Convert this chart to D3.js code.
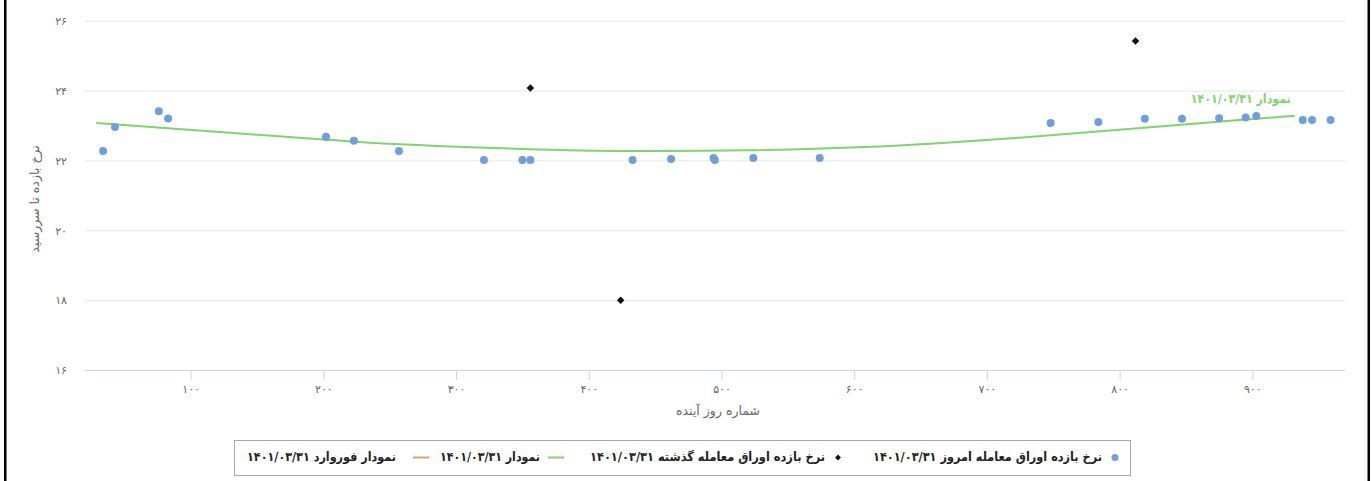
<!DOCTYPE html>
<html><head><meta charset="utf-8">
<script src="https://cdn.jsdelivr.net/npm/d3@7"></script>
<style>
body{margin:0;background:#fff}
svg{display:block}
text{font-family:"DejaVu Sans",sans-serif}
</style>
</head><body>
<svg id="c" width="1371" height="481"></svg>
<script>
// ---- data ----
const todayX=[34,43,76,83,202,223,257,321,350,356,433,462,494,495,524,574,748,784,819,847,875,895,903,938,945,959];
const todayY=[22.27,22.96,23.41,23.20,22.68,22.56,22.27,22.01,22.01,22.01,22.01,22.04,22.07,22.01,22.07,22.07,23.07,23.10,23.19,23.19,23.21,23.23,23.27,23.16,23.16,23.16];
const pastX=[356,424,812];
const pastY=[24.07,18.0,25.42];
const curveX=[29,83,200,258,350,431,520,619,672,748,823,895,932];
const curveY=[23.07,22.92,22.60,22.46,22.33,22.27,22.29,22.40,22.51,22.72,22.95,23.17,23.28];
const forwardX=[];
const forwardY=[];
const xTicks=[100,200,300,400,500,600,700,800,900];
const xTickLabels=["۱۰۰","۲۰۰","۳۰۰","۴۰۰","۵۰۰","۶۰۰","۷۰۰","۸۰۰","۹۰۰"];
const yTicks=[16,18,20,22,24,26];
const yTickLabels=["۱۶","۱۸","۲۰","۲۲","۲۴","۲۶"];
const seriesNames=["نرخ بازده اوراق معامله امروز ۱۴۰۱/۰۳/۳۱","نرخ بازده اوراق معامله گذشته ۱۴۰۱/۰۳/۳۱","نمودار ۱۴۰۱/۰۳/۳۱","نمودار فوروارد ۱۴۰۱/۰۳/۳۱"];
const curveLabel="نمودار ۱۴۰۱/۰۳/۳۱";
const xTitle="شماره روز آینده";
const yTitle="نرخ بازده تا سررسید";

// ---- layout ----
const colors={blue:"#6f9fd8",black:"#111111",green:"#7fd46c",orange:"#e0a060"};
const svg=d3.select("#c");
const L=85,R=1345,T=20.7,B=370;
const x=d3.scaleLinear().domain([20,970]).range([84.5,1345.2]);
const y=d3.scaleLinear().domain([16,26]).range([370,20.7]);

function fit(sel,w){
  const n=sel.node(); const fs=+sel.attr("font-size");
  const len=n.getComputedTextLength();
  if(len>0) sel.attr("font-size",fs*w/len);
  return sel;
}
function squeeze(sel,w){
  const len=sel.node().getComputedTextLength();
  if(len>w) sel.attr("textLength",w).attr("lengthAdjust","spacingAndGlyphs");
  return sel;
}

// frame
svg.append("rect").attr("x",4).attr("y",0).attr("width",2.5).attr("height",481).attr("fill","#000");
svg.append("rect").attr("x",1367.5).attr("y",0).attr("width",2.5).attr("height",481).attr("fill","#000");

// grid
const gy=svg.append("g").attr("transform",`translate(${L},0)`)
  .call(d3.axisLeft(y).tickValues(yTicks).tickSize(-(R-L)).tickFormat((d,i)=>yTickLabels[i]));
gy.select(".domain").remove();
gy.selectAll(".tick line").attr("stroke","#e6e6e6");
gy.selectAll(".tick text").attr("x",-18).attr("fill","#666").attr("font-size",11).attr("dy","0.35em");

const gx=svg.append("g").attr("transform",`translate(0,${B})`)
  .call(d3.axisBottom(x).tickValues(xTicks).tickSize(10).tickFormat((d,i)=>xTickLabels[i]));
gx.select(".domain").attr("d",`M${L},0.5H${R}`).attr("stroke","#ccd6eb");
gx.selectAll(".tick line").attr("stroke","#ccd6eb");
gx.selectAll(".tick text").attr("y",19).attr("dy","0.35em").attr("fill","#666").attr("font-size",11);

// axis titles
svg.append("text").attr("x",718).attr("y",411).attr("text-anchor","middle").attr("dominant-baseline","middle")
  .attr("direction","rtl").attr("fill","#666").attr("font-size",12.5).text(xTitle);
svg.append("text").attr("transform","translate(35,199) rotate(-90)").attr("text-anchor","middle").attr("dominant-baseline","middle")
  .attr("direction","rtl").attr("fill","#666").attr("font-size",12.5).text(yTitle);

// curve
const line=d3.line().x(d=>x(d[0])).y(d=>y(d[1])).curve(d3.curveCatmullRom);
svg.append("path").datum(curveX.map((v,i)=>[v,curveY[i]])).attr("d",line)
  .attr("fill","none").attr("stroke",colors.green).attr("stroke-width",2);
svg.append("path").datum(forwardX.map((v,i)=>[v,forwardY[i]])).attr("d",d=>d.length?line(d):null)
  .attr("fill","none").attr("stroke",colors.orange).attr("stroke-width",2);
// curve label at end
const lastI=curveX.length-1;
squeeze(svg.append("text").attr("x",x(curveX[lastI])-4).attr("y",y(curveY[lastI])-16)
  .attr("direction","rtl").attr("text-anchor","start").attr("dominant-baseline","middle")
  .attr("fill",colors.green).attr("font-size",12.5).attr("font-weight","bold").text(curveLabel),100);

// points
svg.append("g").selectAll("circle").data(todayX.map((v,i)=>[v,todayY[i]])).join("circle")
  .attr("cx",d=>x(d[0])).attr("cy",d=>y(d[1])).attr("r",4).attr("fill",colors.blue);
const diamond=d3.symbol().type(d3.symbolDiamond2).size(36);
svg.append("g").selectAll("path").data(pastX.map((v,i)=>[v,pastY[i]])).join("path")
  .attr("transform",d=>`translate(${x(d[0])},${y(d[1])})`).attr("d",diamond).attr("fill",colors.black);

// legend
svg.append("rect").attr("x",234.5).attr("y",440.5).attr("width",896).attr("height",35)
  .attr("fill","#fff").attr("stroke","#aaa");
const ly=457.5;
const legendItems=[
  {name:seriesNames[0],sym:"circle",c:colors.blue,sx:1115,tx:1102,w:229},
  {name:seriesNames[1],sym:"diamond",c:colors.black,sx:838,tx:825,w:235},
  {name:seriesNames[2],sym:"line",c:colors.green,sx:556,tx:540,w:100},
  {name:seriesNames[3],sym:"line",c:colors.orange,sx:421,tx:396,w:149}
];
const lg=svg.append("g");
legendItems.forEach(it=>{
  if(it.sym==="circle") lg.append("circle").attr("cx",it.sx).attr("cy",ly).attr("r",3.5).attr("fill",it.c);
  else if(it.sym==="diamond") lg.append("path").attr("transform",`translate(${it.sx},${ly})`).attr("d",d3.symbol().type(d3.symbolDiamond2).size(22)).attr("fill",it.c);
  else lg.append("line").attr("x1",it.sx-8).attr("x2",it.sx+8).attr("y1",ly).attr("y2",ly).attr("stroke",it.c).attr("stroke-width",2);
  squeeze(lg.append("text").attr("x",it.tx).attr("y",ly).attr("direction","rtl").attr("text-anchor","start")
    .attr("dominant-baseline","middle").attr("fill","#222").attr("font-size",12.5).attr("font-weight","bold").text(it.name),it.w);
});
</script>
</body></html>
